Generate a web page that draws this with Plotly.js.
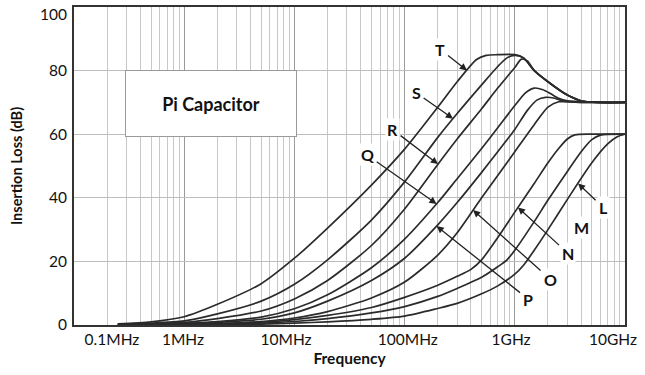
<!DOCTYPE html>
<html>
<head>
<meta charset="utf-8">
<script src="https://cdn.plot.ly/plotly-3.0.1.min.js"></script>
<style>html,body{margin:0;padding:0;background:#fff;}#chart{width:645px;height:375px;}</style>
</head>
<body>
<div id="chart"></div>
<script>
// ---- data (frequency in MHz, insertion loss in dB) ----
const tickLabels = ['0.1MHz', '1MHz', '10MHz', '100MHz', '1GHz', '10GHz'];
const tickLabelAt = [0.221, 0.975, 8.4, 107, 925, 7780];
const yTickLabels = ['0', '20', '40', '60', '80', '100'];
const yTickLabelAt = [0, 20, 40, 60, 80, 97.6];

const fT  = [0.25, 0.5, 1, 2, 5, 10, 20, 50, 100, 200, 300, 450, 550, 700, 1000, 1200, 1500, 2000, 3000, 4200, 10000];
const dbT = [0.4, 1.0, 2.6, 6.5, 13, 21, 30.5, 44, 55.3, 68.5, 76.5, 83.5, 84.8, 85, 85, 84, 80, 76.5, 72.3, 70.3, 70];

const fS  = [0.25, 0.5, 1, 2, 5, 10, 20, 50, 100, 200, 300, 500, 700, 850, 1000, 1200, 1500, 2000, 3000, 4200, 10000];
const dbS = [0.3, 0.6, 1.3, 3.5, 7.5, 12.8, 20.5, 33, 45, 59, 66.5, 75.5, 81.3, 84, 84.8, 84, 80, 76.5, 72.3, 70.3, 70];

const fR  = [0.25, 0.5, 1, 2, 5, 10, 20, 50, 100, 200, 300, 500, 700, 1000, 1150, 1300, 1500, 2000, 3000, 4200, 10000];
const dbR = [0.2, 0.4, 0.8, 2, 4.4, 8.2, 14, 25, 36.5, 50.5, 58.5, 68, 74.5, 81, 83.6, 83, 80.1, 76.5, 72.3, 70.3, 70];

const fQ  = [0.25, 0.5, 1, 2, 5, 10, 20, 50, 100, 200, 300, 500, 700, 1000, 1250, 1500, 1800, 2100, 2500, 3000, 5000, 10000];
const dbQ = [0.2, 0.3, 0.5, 1.1, 2.5, 5.1, 9.5, 18, 27, 38.5, 46, 55.5, 62, 69, 73, 74.5, 74, 72.8, 71.3, 70.5, 70.1, 70];

const fP  = [0.25, 0.5, 1, 2, 5, 10, 20, 50, 100, 200, 300, 500, 700, 1000, 1300, 1600, 1900, 2300, 2700, 3500, 10000];
const dbP = [0.1, 0.2, 0.3, 0.8, 1.8, 3.8, 7.5, 14, 21, 31.5, 38.5, 48, 54.5, 61.5, 67.5, 70.8, 71.6, 71.3, 70.5, 70.1, 70];

const fO  = [0.25, 0.5, 1, 2, 5, 10, 20, 50, 100, 200, 300, 500, 700, 1000, 1500, 2000, 2500, 3000, 5000, 10000];
const dbO = [0.1, 0.1, 0.2, 0.4, 1.1, 2.2, 4.2, 8.5, 13.5, 22, 29, 40, 47, 54.5, 63, 68.5, 70.2, 70.2, 70, 70];

const fN  = [0.25, 0.5, 1, 2, 5, 10, 20, 50, 100, 200, 300, 400, 500, 700, 1000, 1500, 2000, 2500, 3000, 3500, 5000, 10000];
const dbN = [0.1, 0.1, 0.2, 0.4, 0.9, 1.7, 3, 5.5, 8.7, 12.5, 15.3, 17.5, 20.5, 27.5, 35.5, 44.5, 51, 55.5, 58.5, 59.8, 60, 60];

const fM  = [0.25, 0.5, 1, 2, 5, 10, 20, 50, 100, 200, 300, 500, 700, 850, 1000, 1500, 2000, 3000, 4000, 5000, 6000, 10000];
const dbM = [0.05, 0.05, 0.1, 0.2, 0.6, 1.1, 2, 3.8, 5.8, 9, 11.5, 15, 18.3, 20.5, 23.5, 32.5, 39.3, 48.3, 54.5, 58.3, 59.7, 60];

const fL  = [0.25, 0.5, 1, 2, 5, 10, 20, 50, 100, 200, 300, 500, 700, 1000, 1200, 1500, 2000, 3000, 5000, 7000, 8500, 10000];
const dbL = [0, 0, 0.05, 0.1, 0.3, 0.6, 1, 1.8, 2.8, 5.2, 6.8, 9.8, 12.3, 16, 18.8, 23.5, 30, 39.5, 51, 57, 59.2, 60];

// label name and the frequency (MHz) where its arrow meets the curve
const labelNames = ['T', 'S', 'R', 'Q', 'P', 'O', 'N', 'M', 'L'];
const labelTipMHz = [368, 275, 201, 195, 195, 418, 1069, 2084, 3750];

// ---- build ----
const series = [
  {name: 'T', f: fT, db: dbT}, {name: 'S', f: fS, db: dbS}, {name: 'R', f: fR, db: dbR},
  {name: 'Q', f: fQ, db: dbQ}, {name: 'P', f: fP, db: dbP}, {name: 'O', f: fO, db: dbO},
  {name: 'N', f: fN, db: dbN}, {name: 'M', f: fM, db: dbM}, {name: 'L', f: fL, db: dbL}
];

function interpDb(s, freq) {
  const lf = Math.log10(freq);
  for (let i = 0; i < s.f.length - 1; i++) {
    const a = Math.log10(s.f[i]), b = Math.log10(s.f[i + 1]);
    if (lf >= a && lf <= b) return s.db[i] + (s.db[i + 1] - s.db[i]) * (lf - a) / (b - a);
  }
  return s.db[s.db.length - 1];
}

const FONT = 'Lato, "Open Sans", "DejaVu Sans", sans-serif';
const traces = series.map(s => ({
  x: s.f, y: s.db, type: 'scatter', mode: 'lines', name: s.name,
  line: {color: '#2b2b2b', width: 1.7, shape: 'spline', smoothing: 0.7},
  hoverinfo: 'skip', showlegend: false
}));
// helper trace so the label axes are drawn
traces.push({x: [1], y: [null], xaxis: 'x2', yaxis: 'y2', mode: 'lines', showlegend: false, hoverinfo: 'skip'});

const minorVals = [];
for (let d = -1; d <= 3; d++) for (let k = 2; k <= 9; k++) minorVals.push(k * Math.pow(10, d));

// label offsets (px) from arrow tip to label centre
const labelOffsets = {T: [-27, -21.5], S: [-37, -26], R: [-46, -35], Q: [-69.5, -49],
  P: [91.5, 73], O: [77, 69], N: [50, 46], M: [32, 30], L: [25, 24]};

const annotations = labelNames.map((n, i) => {
  const s = series.find(q => q.name === n);
  return {
    x: Math.log10(labelTipMHz[i]), y: interpDb(s, labelTipMHz[i]), xref: 'x', yref: 'y',
    text: '<b>' + n + '</b>', font: {family: FONT, size: 16, color: '#111'},
    showarrow: true, ax: labelOffsets[n][0], ay: labelOffsets[n][1],
    arrowhead: 2, arrowsize: 1.1, arrowwidth: 1.3, arrowcolor: '#222',
    bgcolor: '#ffffff', borderpad: 1, standoff: 0, startstandoff: 2
  };
});
annotations.push({
  xref: 'paper', yref: 'paper', x: 0.2495, y: 0.695, xanchor: 'center', yanchor: 'middle',
  text: '<b>Pi Capacitor</b>', font: {family: FONT, size: 18, color: '#111'},
  showarrow: false, width: 168, height: 63, bgcolor: '#ffffff',
  bordercolor: '#9a9a9a', borderwidth: 1, borderpad: 1
});

const layout = {
  width: 645, height: 375,
  margin: {l: 74, r: 20, t: 7, b: 50},
  paper_bgcolor: '#ffffff', plot_bgcolor: '#ffffff',
  font: {family: FONT, color: '#111'},
  xaxis: {
    type: 'log', range: [-1, 4], tickvals: [0.1, 1, 10, 100, 1000, 10000],
    showticklabels: false, ticks: '', showgrid: true, gridcolor: '#9a9a9a', gridwidth: 1,
    minor: {tickvals: minorVals, showgrid: true, gridcolor: '#c8c8c8', gridwidth: 1, ticks: ''},
    showline: true, mirror: true, linecolor: '#333', linewidth: 2, zeroline: false
  },
  xaxis2: {
    type: 'log', range: [-1, 4], overlaying: 'x', anchor: 'y', side: 'bottom',
    tickvals: tickLabelAt, ticktext: tickLabels, ticks: '', showgrid: false, zeroline: false,
    showline: false, tickfont: {family: FONT, size: 15.5, color: '#111'}, ticklabelstandoff: 3,
    title: {text: '<b>Frequency</b>', font: {family: FONT, size: 15.5, color: '#111'}, standoff: 6}
  },
  yaxis: {
    range: [0, 100], tickvals: [20, 40, 60, 80], showticklabels: false, ticks: '',
    showgrid: true, gridcolor: '#bdbdbd', gridwidth: 1, zeroline: false,
    showline: true, mirror: true, linecolor: '#333', linewidth: 2
  },
  yaxis2: {
    range: [0, 100], overlaying: 'y', anchor: 'x', side: 'left',
    tickvals: yTickLabelAt, ticktext: yTickLabels, ticks: '', showgrid: false, zeroline: false,
    showline: false, tickfont: {family: FONT, size: 15.5, color: '#111'}, ticklabelstandoff: 6,
    title: {text: '<b>Insertion Loss (dB)</b>', font: {family: FONT, size: 14.5, color: '#111'}, standoff: 13}
  },
  annotations: annotations,
  showlegend: false
};

Plotly.newPlot('chart', traces, layout, {displayModeBar: false, staticPlot: true});
</script>
</body>
</html>
